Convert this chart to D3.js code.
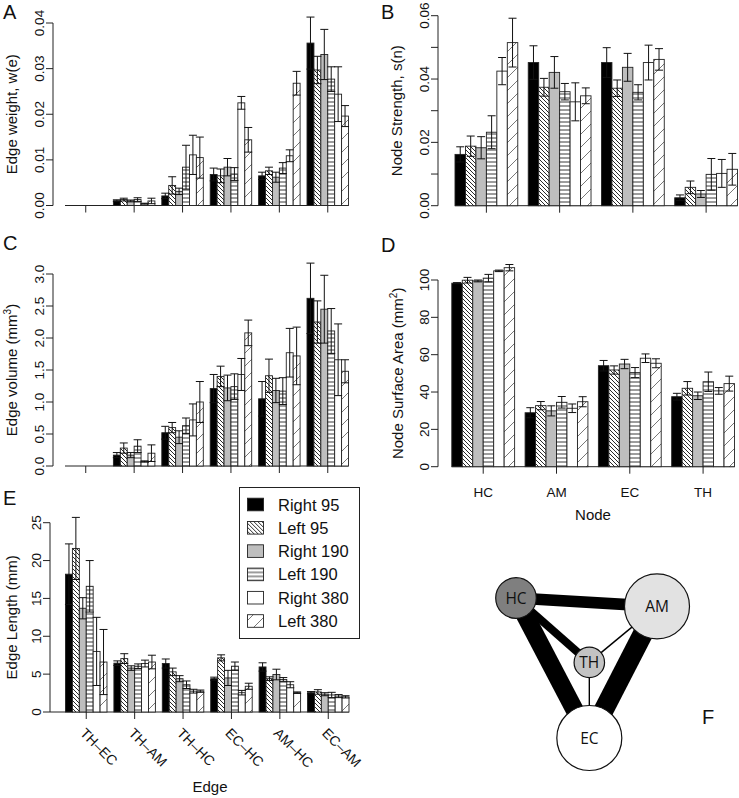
<!DOCTYPE html>
<html>
<head>
<meta charset="utf-8">
<script src="https://cdn.jsdelivr.net/npm/d3@7"></script>
<style>
  body { margin: 0; background: #fff; }
  svg { display: block; font-family: "Liberation Sans", Arial, sans-serif; }
</style>
</head>
<body>
<svg id="fig" width="739" height="798"></svg>
<script>
// series and category names
const series = ['Right 95', 'Left 95', 'Right 190', 'Left 190', 'Right 380', 'Left 380'];
const edgeNames = ['TH–EC', 'TH–AM', 'TH–HC', 'EC–HC', 'AM–HC', 'EC–AM'];
const nodeNames = ['HC', 'AM', 'EC', 'TH'];

// A: edge weight (rows = edges, cols = series)
const weightMean = [
  [0, 0, 0, 0, 0, 0],
  [0.00105, 0.0013, 0.001, 0.0013, 0.0004, 0.001],
  [0.0021, 0.0044, 0.0031, 0.0084, 0.0111, 0.0105],
  [0.0068, 0.0065, 0.0084, 0.0069, 0.0225, 0.0144],
  [0.0065, 0.0076, 0.0062, 0.0082, 0.0109, 0.0268],
  [0.0356, 0.0297, 0.0331, 0.0277, 0.0244, 0.0196]
];
const weightSd = [
  [0, 0, 0, 0, 0, 0],
  [0.0002, 0.0003, 0.0002, 0.0004, 0.0001, 0.0006],
  [0.0006, 0.0019, 0.0007, 0.0048, 0.0043, 0.0045],
  [0.0014, 0.0015, 0.0019, 0.0014, 0.0014, 0.0027],
  [0.0008, 0.0008, 0.0011, 0.0012, 0.0013, 0.0026],
  [0.0057, 0.003, 0.0055, 0.0027, 0.006, 0.0023]
];

// B: node strength (rows = nodes)
const strengthMean = [
  [0.0162, 0.0188, 0.0183, 0.0232, 0.0425, 0.0515],
  [0.0452, 0.0374, 0.0421, 0.036, 0.0328, 0.0347],
  [0.0452, 0.0371, 0.0437, 0.0358, 0.0452, 0.0462],
  [0.0025, 0.0058, 0.0037, 0.0099, 0.0102, 0.0115]
];
const strengthSd = [
  [0.0024, 0.0032, 0.0035, 0.0052, 0.0043, 0.0077],
  [0.0053, 0.0028, 0.005, 0.0026, 0.006, 0.0025],
  [0.0047, 0.0026, 0.0044, 0.0024, 0.0055, 0.0034],
  [0.0009, 0.002, 0.0011, 0.005, 0.0044, 0.005]
];

// C: edge volume
const volumeMean = [
  [0, 0, 0, 0, 0, 0],
  [0.17, 0.28, 0.17, 0.31, 0.07, 0.2],
  [0.52, 0.6, 0.45, 0.63, 0.72, 1.0],
  [1.21, 1.4, 1.22, 1.24, 1.43, 2.08],
  [1.05, 1.41, 1.18, 1.17, 1.77, 1.72],
  [2.62, 2.25, 2.45, 2.11, 1.66, 1.48]
];
const volumeSd = [
  [0, 0, 0, 0, 0, 0],
  [0.04, 0.08, 0.04, 0.1, 0.01, 0.13],
  [0.1, 0.08, 0.1, 0.12, 0.25, 0.32],
  [0.22, 0.16, 0.2, 0.2, 0.25, 0.2],
  [0.27, 0.26, 0.19, 0.21, 0.38, 0.45],
  [0.55, 0.33, 0.53, 0.35, 0.56, 0.18]
];

// D: node surface area
const areaMean = [
  [98.3, 99.9, 99.5, 101, 104.9, 106.6],
  [28.9, 32.7, 29.9, 34.5, 31.3, 34.8],
  [54.1, 51.8, 55.0, 50.4, 58.1, 55.4],
  [37.5, 42.0, 38.0, 45.5, 40.6, 44.5]
];
const areaSd = [
  [0.3, 1.5, 0.5, 2, 0.4, 1.7],
  [2.7, 2.2, 2.7, 3.1, 2.3, 2.7],
  [2.8, 2.2, 2.5, 2.7, 2.3, 2.4],
  [1.8, 3.6, 2, 5.2, 1.8, 4]
];

// E: edge length
const lengthMean = [
  [18.2, 21.6, 13.7, 16.6, 8.0, 6.6],
  [6.45, 7.05, 5.8, 6.05, 6.4, 6.6],
  [6.4, 5.3, 4.4, 3.6, 2.75, 2.75],
  [4.4, 7.15, 4.5, 6.05, 2.55, 3.4],
  [5.95, 4.4, 4.95, 4.3, 3.6, 2.55],
  [2.55, 2.65, 2.35, 2.25, 2.1, 2.0]
];
const lengthSd = [
  [4.0, 4.1, 1.4, 3.4, 4.5, 4.3],
  [0.3, 0.65, 0.3, 0.3, 0.45, 0.9],
  [0.6, 0.5, 0.4, 0.5, 0.25, 0.15],
  [0.2, 0.4, 1.0, 0.55, 0.3, 0.4],
  [0.55, 0.25, 0.7, 0.25, 0.4, 0.1],
  [0.15, 0.3, 0.2, 0.35, 0.2, 0.15]
];

// tick values
const weightTicks = [0, 0.01, 0.02, 0.03, 0.04];
const strengthTicks = [0, 0.01, 0.02, 0.03, 0.04, 0.05, 0.06];
const volumeTicks = [0, 0.5, 1, 1.5, 2, 2.5, 3];
const areaTicks = [0, 20, 40, 60, 80, 100];
const lengthTicks = [0, 5, 10, 15, 20, 25];

// F: network (layout units, relative node size, relative edge weight)
const netNodes = ['HC', 'AM', 'TH', 'EC'];
const netLayoutX = [0, 1, 0.52, 0.52];
const netLayoutY = [0, 0.06, 0.46, 1];
const netNodeSize = [0.39, 1, 0.22, 1];
const netEdges = [['HC', 'EC'], ['AM', 'EC'], ['HC', 'AM'], ['HC', 'TH'], ['TH', 'AM'], ['TH', 'EC']];
const netEdgeWeight = [0.9, 1, 0.58, 0.4, 0.07, 0.07];

const svg = d3.select('#fig');
const defs = svg.append('defs');

function hatch(id, size, pathD, color, w) {
  let p = defs.append('pattern')
    .attr('id', id)
    .attr('patternUnits', 'userSpaceOnUse')
    .attr('width', size)
    .attr('height', size);
  p.append('rect').attr('width', size).attr('height', size).attr('fill', '#fff');
  p.append('path').attr('d', pathD).attr('stroke', color).attr('stroke-width', w).attr('fill', 'none');
}
hatch('p95', 4, 'M0,0L4,4M-1,3L1,5M3,-1L5,1', '#111', 0.9);
hatch('p190', 4, 'M0,2H4', '#222', 0.9);
hatch('p380', 13, 'M0,13L13,0M-2,2L2,-2M11,15L15,11', '#555', 0.8);

const fills = ['#000', 'url(#p95)', '#bebebe', 'url(#p190)', '#fff', 'url(#p380)'];

function barPanel(o) {
  let g = svg.append('g');
  let nG = o.mean.length;
  let x = d3.scaleLinear().domain([1, nG * 7]).range([o.left, o.right]);
  let y = d3.scaleLinear().domain([0, o.max]).range([o.bottom, o.top]);

  let cells = [];
  o.mean.forEach((row, gi) => row.forEach((v, si) => {
    cells.push({ g: gi, s: si, v: v, sd: o.sd[gi][si] });
  }));

  // x baseline
  g.append('line')
    .attr('x1', o.lineFrom != null ? o.lineFrom : x(1)).attr('x2', x(nG * 7))
    .attr('y1', y(0)).attr('y2', y(0))
    .attr('stroke', '#222').attr('stroke-width', 1);

  g.selectAll('.bar')
    .data(cells.filter(d => d.v > 0))
    .enter()
    .append('rect')
    .attr('class', 'bar')
    .attr('x', d => x(d.g * 7 + 1 + d.s))
    .attr('width', d => x(d.g * 7 + 2 + d.s) - x(d.g * 7 + 1 + d.s))
    .attr('y', d => y(d.v))
    .attr('height', d => y(0) - y(d.v))
    .attr('fill', d => fills[d.s])
    .attr('stroke', '#222')
    .attr('stroke-width', 0.9);

  // error bars
  let eb = g.selectAll('.err')
    .data(cells.filter(d => d.sd > 0))
    .enter()
    .append('g')
    .attr('stroke', '#111')
    .attr('stroke-width', 1);
  let cx = d => x(d.g * 7 + 1.5 + d.s);
  eb.append('line')
    .attr('x1', cx).attr('x2', cx)
    .attr('y1', d => y(d.v - d.sd)).attr('y2', d => y(d.v + d.sd));
  [1, -1].forEach(sgn => {
    eb.append('line')
      .attr('x1', d => cx(d) - 4).attr('x2', d => cx(d) + 4)
      .attr('y1', d => y(d.v + sgn * d.sd)).attr('y2', d => y(d.v + sgn * d.sd));
  });

  // x ticks at group centres
  let centres = d3.range(nG).map(i => x(i * 7 + 4));
  g.selectAll('.xt')
    .data(centres)
    .enter()
    .append('line')
    .attr('x1', d => d).attr('x2', d => d)
    .attr('y1', y(0)).attr('y2', y(0) + 7)
    .attr('stroke', '#222');

  // y axis
  g.append('line')
    .attr('x1', o.axisX).attr('x2', o.axisX)
    .attr('y1', y(0)).attr('y2', y(o.ticks[o.ticks.length - 1]))
    .attr('stroke', '#222');
  g.selectAll('.yt')
    .data(o.ticks)
    .enter()
    .append('line')
    .attr('x1', o.axisX - 7).attr('x2', o.axisX)
    .attr('y1', d => y(d)).attr('y2', d => y(d))
    .attr('stroke', '#222');
  g.selectAll('.yl')
    .data(o.ticks.filter((d, i) => !o.labelEvery || i % o.labelEvery === 0))
    .enter()
    .append('text')
    .attr('transform', d => `translate(${o.axisX - 9},${y(d)}) rotate(-90)`)
    .attr('text-anchor', 'middle')
    .attr('font-size', 13.5)
    .attr('fill', '#111')
    .text(o.fmt);

  // y title
  let t = g.append('text')
    .attr('transform', `translate(${o.titleX},${(y(0) + y(o.max)) / 2}) rotate(-90)`)
    .attr('text-anchor', 'middle')
    .attr('font-size', 15)
    .attr('fill', '#111');
  t.append('tspan').text(o.title);
  if (o.sup) {
    t.append('tspan').attr('font-size', 10).attr('dy', -6).text(o.sup);
    t.append('tspan').attr('dy', 6).text(')');
  }

  return { g: g, x: x, y: y, centres: centres };
}

barPanel({ mean: weightMean, sd: weightSd, left: 65, right: 348.5, top: 23, bottom: 205.5, max: 0.04,
  ticks: weightTicks, fmt: d3.format('.2f'), axisX: 53, title: 'Edge weight, w(e)', titleX: 17 });

barPanel({ mean: strengthMean, sd: strengthSd, left: 455, right: 737.5, top: 15.7, bottom: 205.7, max: 0.06,
  ticks: strengthTicks, labelEvery: 2, fmt: d3.format('.2f'), axisX: 438, title: 'Node Strength, s(n)', titleX: 402 });

barPanel({ mean: volumeMean, sd: volumeSd, left: 65, right: 348.5, top: 274, bottom: 466, max: 3,
  ticks: volumeTicks, fmt: d3.format('.1f'), axisX: 53, title: 'Edge volume (mm', sup: '3', titleX: 17 });

let pD = barPanel({ mean: areaMean, sd: areaSd, left: 451.8, right: 734.5, top: 280, bottom: 466.7, max: 100,
  ticks: areaTicks, fmt: d3.format('d'), axisX: 438, title: 'Node Surface Area (mm', sup: '2', titleX: 403 });

let pE = barPanel({ mean: lengthMean, sd: lengthSd, left: 65.5, right: 349, top: 522.7, bottom: 712, max: 25,
  ticks: lengthTicks, fmt: d3.format('d'), axisX: 50, title: 'Edge Length (mm)', titleX: 17, lineFrom: 50 });

// D category labels
pD.g.selectAll('.xl')
  .data(nodeNames)
  .enter()
  .append('text')
  .attr('x', (d, i) => pD.centres[i])
  .attr('y', 497)
  .attr('text-anchor', 'middle')
  .attr('font-size', 13.5)
  .attr('fill', '#111')
  .text(d => d);
pD.g.append('text')
  .attr('x', 593).attr('y', 520)
  .attr('text-anchor', 'middle')
  .attr('font-size', 15)
  .attr('fill', '#111')
  .text('Node');

// E rotated category labels
pE.g.selectAll('.xl')
  .data(edgeNames)
  .enter()
  .append('text')
  .attr('transform', (d, i) => `translate(${pE.centres[i] - 7},734) rotate(45)`)
  .attr('font-size', 14)
  .attr('fill', '#111')
  .text(d => d);
pE.g.append('text')
  .attr('x', 210).attr('y', 792)
  .attr('text-anchor', 'middle')
  .attr('font-size', 15)
  .attr('fill', '#111')
  .text('Edge');

// legend
let leg = svg.append('g');
leg.append('rect')
  .attr('x', 239.5).attr('y', 487.5)
  .attr('width', 120).attr('height', 151)
  .attr('fill', '#fff').attr('stroke', '#222');
let rowY = d3.scalePoint().domain(series).range([504.5, 621]);
let item = leg.selectAll('.li')
  .data(series)
  .enter()
  .append('g')
  .attr('transform', d => `translate(0,${rowY(d)})`);
item.append('rect')
  .attr('x', 247.5).attr('y', -6.3)
  .attr('width', 16).attr('height', 12.6)
  .attr('fill', (d, i) => fills[i])
  .attr('stroke', '#222')
  .attr('stroke-width', 0.9);
item.append('text')
  .attr('x', 278).attr('y', 6)
  .attr('font-size', 16.5)
  .attr('fill', '#111')
  .text(d => d);

// F network
let nx = d3.scaleLinear().domain([0, 1]).range([516, 657]);
let ny = d3.scaleLinear().domain([0, 1]).range([598, 738]);
let nr = d3.scaleSqrt().domain([0, 1]).range([0, 32.5]);
let ew = d3.scaleLinear().domain([0, 1]).range([0, 20]);
let nodeFill = { HC: '#7f7f7f', AM: '#e2e2e2', TH: '#c3c3c3', EC: '#fff' };
let pos = {};
netNodes.forEach((n, i) => { pos[n] = [nx(netLayoutX[i]), ny(netLayoutY[i])]; });

let net = svg.append('g');
net.selectAll('.edge')
  .data(netEdges)
  .enter()
  .append('line')
  .attr('x1', d => pos[d[0]][0]).attr('y1', d => pos[d[0]][1])
  .attr('x2', d => pos[d[1]][0]).attr('y2', d => pos[d[1]][1])
  .attr('stroke', '#000')
  .attr('stroke-width', (d, i) => Math.max(1.3, ew(netEdgeWeight[i])));
let node = net.selectAll('.node')
  .data(netNodes)
  .enter()
  .append('g')
  .attr('transform', d => `translate(${pos[d][0]},${pos[d][1]})`);
node.append('circle')
  .attr('r', (d, i) => nr(netNodeSize[i]))
  .attr('fill', d => nodeFill[d])
  .attr('stroke', '#111')
  .attr('stroke-width', 1.2);
node.append('text')
  .attr('text-anchor', 'middle')
  .attr('dy', 5.5)
  .attr('font-family', '"Open Sans", "Noto Sans", sans-serif')
  .attr('font-size', 15.5)
  .attr('fill', '#111')
  .text(d => d);

// panel letters
let letters = [['A', 3, 19], ['B', 381, 19], ['C', 3, 250], ['D', 381, 252], ['E', 3, 505], ['F', 702, 724]];
svg.selectAll('.letter')
  .data(letters)
  .enter()
  .append('text')
  .attr('x', d => d[1]).attr('y', d => d[2])
  .attr('font-size', 20)
  .attr('fill', '#111')
  .text(d => d[0]);
</script>
</body>
</html>
